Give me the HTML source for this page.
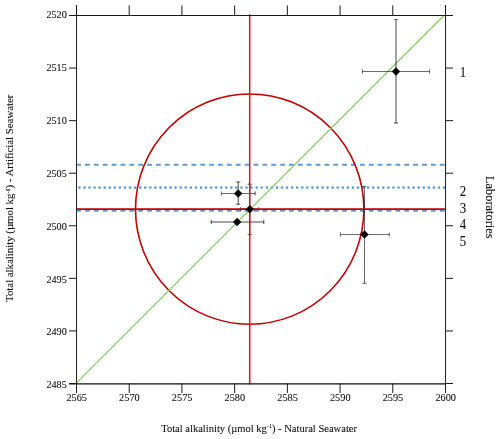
<!DOCTYPE html>
<html><head><meta charset="utf-8"><style>
html,body{margin:0;padding:0;background:#fff;}
body{width:500px;height:439px;position:relative;overflow:hidden;font-family:"Liberation Serif",serif;}
svg text{font-family:"Liberation Serif",serif;fill:#111;stroke:#111;stroke-width:0.1px;}
</style></head><body>
<svg width="500" height="439" viewBox="0 0 500 439" style="position:absolute;left:0;top:0;will-change:transform">
<line x1="76.13" y1="164.8" x2="445.5" y2="164.8" stroke="#5b9bd5" stroke-width="1.9" stroke-dasharray="4.8 4.07"/>
<line x1="76.13" y1="210.7" x2="445.5" y2="210.7" stroke="#5b9bd5" stroke-width="1.9" stroke-dasharray="4.8 4.07"/>
<line x1="79.4" y1="187.6" x2="445.5" y2="187.6" stroke="#5b9bd5" stroke-width="2.6" stroke-linecap="round" stroke-dasharray="0 5.065"/>
<ellipse cx="249.7" cy="209.1" rx="114.2" ry="115.1" fill="none" stroke="#c00000" stroke-width="1.6"/>
<line x1="76.5" y1="382.9" x2="443.9" y2="15.5" stroke="#8aca6c" stroke-width="1.3"/>
<line x1="362.5" y1="71.5" x2="429.6" y2="71.5" stroke="#000" stroke-width="0.58"/><line x1="362.5" y1="69.4" x2="362.5" y2="73.6" stroke="#000" stroke-width="0.58"/><line x1="429.6" y1="69.4" x2="429.6" y2="73.6" stroke="#000" stroke-width="0.58"/><line x1="396.0" y1="19.6" x2="396.0" y2="123.0" stroke="#000" stroke-width="0.72"/><line x1="393.9" y1="19.6" x2="398.1" y2="19.6" stroke="#000" stroke-width="0.58"/><line x1="393.9" y1="123.0" x2="398.1" y2="123.0" stroke="#000" stroke-width="0.72"/>
<line x1="221.4" y1="193.5" x2="255.1" y2="193.5" stroke="#000" stroke-width="0.58"/><line x1="221.4" y1="191.4" x2="221.4" y2="195.6" stroke="#000" stroke-width="0.58"/><line x1="255.1" y1="191.4" x2="255.1" y2="195.6" stroke="#000" stroke-width="0.72"/><line x1="238.2" y1="182.0" x2="238.2" y2="204.2" stroke="#000" stroke-width="0.72"/><line x1="236.1" y1="182.0" x2="240.29999999999998" y2="182.0" stroke="#000" stroke-width="0.72"/><line x1="236.1" y1="204.2" x2="240.29999999999998" y2="204.2" stroke="#000" stroke-width="0.72"/>
<line x1="240.5" y1="209.2" x2="258.7" y2="209.2" stroke="#000" stroke-width="0.72"/><line x1="240.5" y1="207.1" x2="240.5" y2="211.29999999999998" stroke="#000" stroke-width="0.58"/><line x1="258.7" y1="207.1" x2="258.7" y2="211.29999999999998" stroke="#000" stroke-width="0.58"/><line x1="249.8" y1="184.2" x2="249.8" y2="234.6" stroke="#000" stroke-width="0.72"/><line x1="247.70000000000002" y1="184.2" x2="251.9" y2="184.2" stroke="#000" stroke-width="0.72"/><line x1="247.70000000000002" y1="234.6" x2="251.9" y2="234.6" stroke="#000" stroke-width="0.58"/>
<line x1="211.2" y1="222.0" x2="263.8" y2="222.0" stroke="#000" stroke-width="0.72"/><line x1="211.2" y1="219.9" x2="211.2" y2="224.1" stroke="#000" stroke-width="0.72"/><line x1="263.8" y1="219.9" x2="263.8" y2="224.1" stroke="#000" stroke-width="0.72"/>
<line x1="340.4" y1="234.5" x2="389.3" y2="234.5" stroke="#000" stroke-width="0.58"/><line x1="340.4" y1="232.4" x2="340.4" y2="236.6" stroke="#000" stroke-width="0.58"/><line x1="389.3" y1="232.4" x2="389.3" y2="236.6" stroke="#000" stroke-width="0.58"/><line x1="364.5" y1="186.6" x2="364.5" y2="283.4" stroke="#000" stroke-width="0.58"/><line x1="362.4" y1="186.6" x2="366.6" y2="186.6" stroke="#000" stroke-width="0.58"/><line x1="362.4" y1="283.4" x2="366.6" y2="283.4" stroke="#000" stroke-width="0.58"/>
<line x1="249.7" y1="14.3" x2="249.7" y2="384.6" stroke="#cc1c1c" stroke-width="1.5"/>
<line x1="76.5" y1="209.1" x2="445.5" y2="209.1" stroke="#c00000" stroke-width="1.8"/>
<path d="M391.8 71.5L396.0 67.3L400.2 71.5L396.0 75.7Z" fill="#000"/>
<path d="M234.0 193.5L238.2 189.3L242.39999999999998 193.5L238.2 197.7Z" fill="#000"/>
<path d="M245.60000000000002 209.2L249.8 205.0L254.0 209.2L249.8 213.39999999999998Z" fill="#000"/>
<path d="M232.9 222.0L237.1 217.8L241.29999999999998 222.0L237.1 226.2Z" fill="#000"/>
<path d="M360.3 234.5L364.5 230.3L368.7 234.5L364.5 238.7Z" fill="#000"/>
<line x1="76.5" y1="5" x2="76.5" y2="384.0" stroke="#262626" stroke-width="1.05"/>
<line x1="445.5" y1="5" x2="445.5" y2="384.0" stroke="#262626" stroke-width="1.05"/>
<line x1="69.0" y1="15.5" x2="453.0" y2="15.5" stroke="#1a1a1a" stroke-width="1.2"/>
<line x1="69.0" y1="383.85" x2="445.5" y2="383.85" stroke="#111" stroke-width="1.1"/>
<line x1="76.5" y1="5.5" x2="76.5" y2="15.5" stroke="#1a1a1a" stroke-width="1"/>
<line x1="76.5" y1="383.5" x2="76.5" y2="393" stroke="#1a1a1a" stroke-width="1"/>
<line x1="69" y1="383.5" x2="76.5" y2="383.5" stroke="#1a1a1a" stroke-width="1"/>
<line x1="445.5" y1="383.5" x2="453" y2="383.5" stroke="#1a1a1a" stroke-width="1"/>
<line x1="129.21428571428572" y1="5.5" x2="129.21428571428572" y2="15.5" stroke="#1a1a1a" stroke-width="1"/>
<line x1="129.21428571428572" y1="383.5" x2="129.21428571428572" y2="393" stroke="#1a1a1a" stroke-width="1"/>
<line x1="69" y1="330.92857142857144" x2="76.5" y2="330.92857142857144" stroke="#1a1a1a" stroke-width="1"/>
<line x1="445.5" y1="330.92857142857144" x2="453" y2="330.92857142857144" stroke="#1a1a1a" stroke-width="1"/>
<line x1="181.92857142857144" y1="5.5" x2="181.92857142857144" y2="15.5" stroke="#1a1a1a" stroke-width="1"/>
<line x1="181.92857142857144" y1="383.5" x2="181.92857142857144" y2="393" stroke="#1a1a1a" stroke-width="1"/>
<line x1="69" y1="278.35714285714283" x2="76.5" y2="278.35714285714283" stroke="#1a1a1a" stroke-width="1"/>
<line x1="445.5" y1="278.35714285714283" x2="453" y2="278.35714285714283" stroke="#1a1a1a" stroke-width="1"/>
<line x1="234.64285714285714" y1="5.5" x2="234.64285714285714" y2="15.5" stroke="#1a1a1a" stroke-width="1"/>
<line x1="234.64285714285714" y1="383.5" x2="234.64285714285714" y2="393" stroke="#1a1a1a" stroke-width="1"/>
<line x1="69" y1="225.78571428571428" x2="76.5" y2="225.78571428571428" stroke="#1a1a1a" stroke-width="1"/>
<line x1="445.5" y1="225.78571428571428" x2="453" y2="225.78571428571428" stroke="#1a1a1a" stroke-width="1"/>
<line x1="287.3571428571429" y1="5.5" x2="287.3571428571429" y2="15.5" stroke="#1a1a1a" stroke-width="1"/>
<line x1="287.3571428571429" y1="383.5" x2="287.3571428571429" y2="393" stroke="#1a1a1a" stroke-width="1"/>
<line x1="69" y1="173.21428571428572" x2="76.5" y2="173.21428571428572" stroke="#1a1a1a" stroke-width="1"/>
<line x1="445.5" y1="173.21428571428572" x2="453" y2="173.21428571428572" stroke="#1a1a1a" stroke-width="1"/>
<line x1="340.07142857142856" y1="5.5" x2="340.07142857142856" y2="15.5" stroke="#1a1a1a" stroke-width="1"/>
<line x1="340.07142857142856" y1="383.5" x2="340.07142857142856" y2="393" stroke="#1a1a1a" stroke-width="1"/>
<line x1="69" y1="120.64285714285714" x2="76.5" y2="120.64285714285714" stroke="#1a1a1a" stroke-width="1"/>
<line x1="445.5" y1="120.64285714285714" x2="453" y2="120.64285714285714" stroke="#1a1a1a" stroke-width="1"/>
<line x1="392.7857142857143" y1="5.5" x2="392.7857142857143" y2="15.5" stroke="#1a1a1a" stroke-width="1"/>
<line x1="392.7857142857143" y1="383.5" x2="392.7857142857143" y2="393" stroke="#1a1a1a" stroke-width="1"/>
<line x1="69" y1="68.07142857142857" x2="76.5" y2="68.07142857142857" stroke="#1a1a1a" stroke-width="1"/>
<line x1="445.5" y1="68.07142857142857" x2="453" y2="68.07142857142857" stroke="#1a1a1a" stroke-width="1"/>
<line x1="445.5" y1="5.5" x2="445.5" y2="15.5" stroke="#1a1a1a" stroke-width="1"/>
<line x1="445.5" y1="383.5" x2="445.5" y2="393" stroke="#1a1a1a" stroke-width="1"/>
<line x1="69" y1="15.5" x2="76.5" y2="15.5" stroke="#1a1a1a" stroke-width="1"/>
<line x1="445.5" y1="15.5" x2="453" y2="15.5" stroke="#1a1a1a" stroke-width="1"/>
<text x="66.4" y="401" font-size="11.4" textLength="20.6" lengthAdjust="spacingAndGlyphs">2565</text>
<text x="46.4" y="387.5" font-size="11.4" textLength="20.4" lengthAdjust="spacingAndGlyphs">2485</text>
<text x="119.11428571428573" y="401" font-size="11.4" textLength="20.6" lengthAdjust="spacingAndGlyphs">2570</text>
<text x="46.4" y="334.5" font-size="11.4" textLength="20.4" lengthAdjust="spacingAndGlyphs">2490</text>
<text x="171.82857142857142" y="401" font-size="11.4" textLength="20.6" lengthAdjust="spacingAndGlyphs">2575</text>
<text x="46.4" y="282.5" font-size="11.4" textLength="20.4" lengthAdjust="spacingAndGlyphs">2495</text>
<text x="224.54285714285712" y="401" font-size="11.4" textLength="20.6" lengthAdjust="spacingAndGlyphs">2580</text>
<text x="46.4" y="229.5" font-size="11.4" textLength="20.4" lengthAdjust="spacingAndGlyphs">2500</text>
<text x="277.25714285714287" y="401" font-size="11.4" textLength="20.6" lengthAdjust="spacingAndGlyphs">2585</text>
<text x="46.4" y="176.5" font-size="11.4" textLength="20.4" lengthAdjust="spacingAndGlyphs">2505</text>
<text x="329.97142857142853" y="401" font-size="11.4" textLength="20.6" lengthAdjust="spacingAndGlyphs">2590</text>
<text x="46.4" y="124.1" font-size="11.4" textLength="20.4" lengthAdjust="spacingAndGlyphs">2510</text>
<text x="382.68571428571425" y="401" font-size="11.4" textLength="20.6" lengthAdjust="spacingAndGlyphs">2595</text>
<text x="46.4" y="71.19999999999999" font-size="11.4" textLength="20.4" lengthAdjust="spacingAndGlyphs">2515</text>
<text x="435.4" y="401" font-size="11.4" textLength="20.6" lengthAdjust="spacingAndGlyphs">2600</text>
<text x="46.4" y="18.0" font-size="11.4" textLength="20.4" lengthAdjust="spacingAndGlyphs">2520</text>
<text x="459.8" y="76.8" font-size="15" textLength="6.4" lengthAdjust="spacingAndGlyphs">1</text>
<text x="459.8" y="195.5" font-size="15" textLength="6.4" lengthAdjust="spacingAndGlyphs">2</text>
<text x="459.8" y="213.0" font-size="15" textLength="6.4" lengthAdjust="spacingAndGlyphs">3</text>
<text x="459.8" y="228.7" font-size="15" textLength="6.4" lengthAdjust="spacingAndGlyphs">4</text>
<text x="459.8" y="245.6" font-size="15" textLength="6.4" lengthAdjust="spacingAndGlyphs">5</text>
<text x="161.2" y="431.5" font-size="11.4" textLength="195.8" lengthAdjust="spacingAndGlyphs">Total alkalinity (&#181;mol kg<tspan dy="-3.6" font-size="6.5">-1</tspan><tspan dy="3.6">) - Natural Seawater</tspan></text>
<text transform="translate(13.4 301.9) rotate(-90)" font-size="11.4" textLength="207.3" lengthAdjust="spacingAndGlyphs">Total alkalinity (&#181;mol kg<tspan dy="-3.6" font-size="6.5">-1</tspan><tspan dy="3.6">) - Artificial Seawater</tspan></text>
<text transform="translate(486.2 176) rotate(90)" font-size="12.3" textLength="62.5" lengthAdjust="spacingAndGlyphs">Laboratories</text>
</svg>
</body></html>
